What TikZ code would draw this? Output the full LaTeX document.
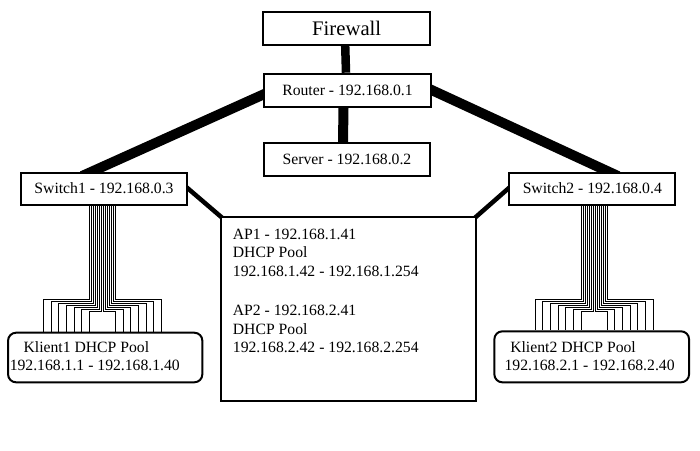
\documentclass[tikz,border=0pt]{standalone}
\usepackage{fontspec}
\setmainfont{Liberation Serif}
\usetikzlibrary{positioning,backgrounds}

\begin{document}
\begin{tikzpicture}[x=1pt,y=-1pt,
  box/.style={draw,line width=2pt,fill=white,inner sep=0pt,font=\fontsize{15.7}{18.7}\selectfont},
  pool/.style={box,rounded corners=8pt},
  txt/.style={inner sep=0pt,align=left,font=\fontsize{15.7}{18.7}\selectfont},
  trunk/.style={line width=10pt,shorten <=-11pt,shorten >=-11pt},
  uplink/.style={line width=4.5pt,shorten <=-3pt,shorten >=-3pt},
  wire/.style={line width=1pt}]
\useasboundingbox (0,0) rectangle (700,450);

\node[box,minimum width=167.5pt,minimum height=32.7pt,font=\fontsize{20.7}{24}\selectfont] (fw) at (346.7,28.3) {Firewall};
\node[box,minimum width=167pt,minimum height=33pt] (r) at (347.5,90.2) {Router - 192.168.0.1};
\node[box,minimum width=166pt,minimum height=33pt] (srv) at (347,159.2) {Server - 192.168.0.2};
\node[box,minimum width=166pt,minimum height=32pt] (sw1) at (104,188.5) {Switch1 - 192.168.0.3};
\node[box,minimum width=166pt,minimum height=32pt] (sw2) at (592.3,188.5) {Switch2 - 192.168.0.4};
\node[box,minimum width=255pt,minimum height=183.7pt] (ap) at (348.5,308.8) {};
\node[pool,minimum width=194.3pt,minimum height=49.6pt] (kl1) at (105.2,357.5) {};
\node[pool,minimum width=194.7pt,minimum height=51pt] (kl2) at (591.7,356.8) {};

\node[txt,below right=12.7pt and 12.7pt of ap.north west] (aptxt) {AP1 - 192.168.1.41\\DHCP Pool\\192.168.1.42 - 192.168.1.254\\[20pt]AP2 - 192.168.2.41\\DHCP Pool\\192.168.2.42 - 192.168.2.254};
\node[txt,below right=9.3pt and 2.5pt of kl1.north west] (kl1txt) {\hspace*{13.8pt}Klient1 DHCP Pool\\192.168.1.1 - 192.168.1.40};
\node[txt,below right=10.7pt and 11pt of kl2.north west] (kl2txt) {\hspace*{5.7pt}Klient2 DHCP Pool\\192.168.2.1 - 192.168.2.40};

\begin{pgfonlayer}{background}
\fill[white] (0,0) rectangle (700,450);
\draw[line width=8.5pt] ([xshift=-1.5pt]fw.south) -- ([xshift=-1.5pt]r.north);
\draw[trunk] ([xshift=-4pt]r.south) -- ([xshift=-4pt]srv.north);
\draw[trunk] (r.183) -- (sw1.125);
\draw[trunk] (r.east) -- (sw2.47);
\draw[uplink] (sw1.east) -- (ap.north west);
\draw[uplink] (sw2.west) -- (ap.north east);
\end{pgfonlayer}

% wire bundles switch -> klient pool
\foreach \sw/\kl/\bx/\fx in {sw1/kl1/-1.5/-2.7,sw2/kl2/1.9/2.5}
  \foreach \side in {-1,1}
    \foreach \i in {0,...,6}
      \draw[wire] ([xshift={\bx+\side*(13-2*\i)}]\sw.south) -- ++(0,{93.8+2*\i})
        -| ([xshift={\fx+\side*(59-7.67*\i)}]\kl.north);
\end{tikzpicture}
\end{document}
